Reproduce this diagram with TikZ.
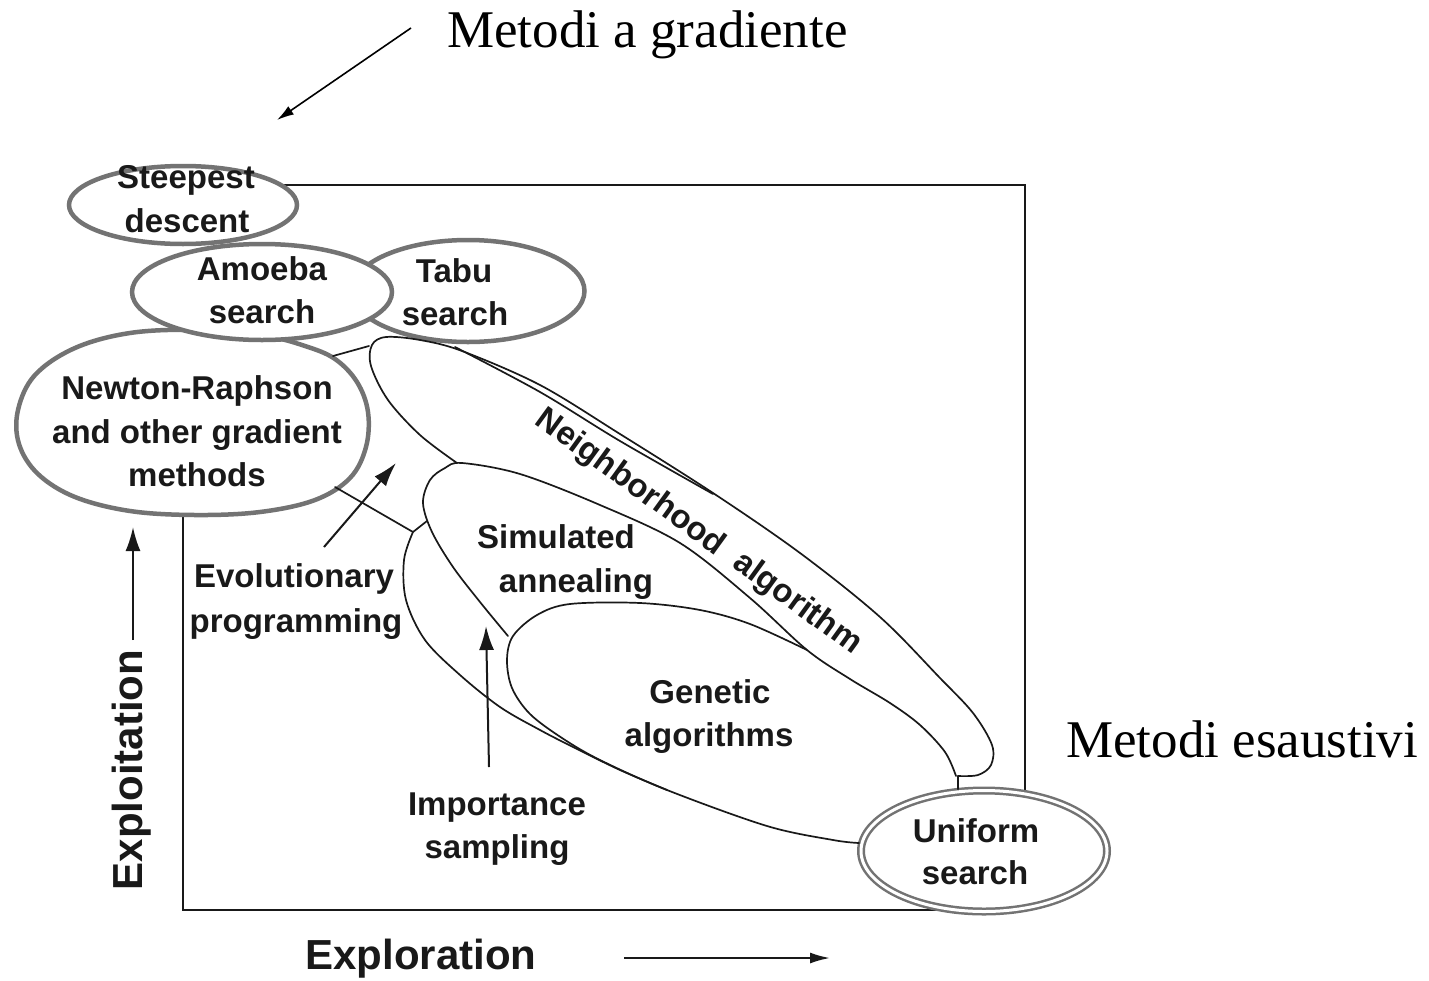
\documentclass[tikz,border=0pt]{standalone}
\usepackage{fontspec}
\setmainfont{Liberation Serif}
\newfontfamily\figsans{Liberation Sans}
\usetikzlibrary{arrows.meta,shapes.geometric}
\definecolor{ovalgray}{gray}{0.45}
\definecolor{inkc}{gray}{0.1}
\begin{document}
\begin{tikzpicture}[x=1pt,y=-1pt,
  oval/.style={ellipse, draw=ovalgray, line width=4.5pt, fill=white, inner sep=0pt, outer sep=0pt},
  lbl/.style={font=\figsans\bfseries\fontsize{33}{40}\selectfont, text=inkc, anchor=base, inner sep=0pt},
  rotlbl/.style={font=\figsans\bfseries\fontsize{33}{40}\selectfont, text=inkc, inner sep=0pt, rotate=-36},
  axislbl/.style={font=\figsans\bfseries\fontsize{42}{48}\selectfont, text=inkc, anchor=base, inner sep=0pt},
  bigserif/.style={font=\fontsize{53}{60}\selectfont, anchor=base west, inner sep=0pt},
  region/.style={line width=1.7pt, draw=inkc, line join=round, line cap=round},
  framel/.style={line width=2.6pt, draw=inkc},
  figarr/.style={line width=2pt, draw=inkc, -{Latex[length=24pt,width=15pt]}},
  slimarr/.style={line width=1.6pt, draw=black, -{Latex[length=17pt,width=10pt]}},
]
\useasboundingbox (0,0) rectangle (1429,980);

% ---- frame (ends hidden under the ovals) ----
\coordinate (fTL) at (183,185);
\coordinate (fTR) at (1025,185);
\coordinate (fRB) at (1025,851);
\coordinate (fLT) at (183,428);
\coordinate (fBL) at (183,910);
\coordinate (fBR) at (984,910);
\draw[framel] (fTL) -- (fTR) -- (fRB);
\draw[framel] (fLT) -- (fBL) -- (fBR);

% ---- thick ovals ----
\coordinate (newton) at (195,428);
\draw[ovalgray, line width=4.5pt, fill=white] plot[smooth cycle, tension=0.6] coordinates {
  (195,330) (265,336) (305,346) (335,359) (357,382) (368,412) (366,447) (350,478)
  (315,500) (260,512) (195,515) (130,511) (75,497) (38,474) (19,444) (18,410)
  (35,375) (75,348) (130,333)};
\node[oval, minimum width=233pt, minimum height=102pt] (tabu) at (468,291) {};
\node[oval, minimum width=260pt, minimum height=96pt] (amoeba) at (262,292) {};
\node[oval, minimum width=228pt, minimum height=78pt] (steep) at (183,205) {};
\node[ellipse, draw=ovalgray, line width=2.5pt, double=white, double distance=3pt,
      fill=white, inner sep=0pt, minimum width=246pt, minimum height=121pt] (uniform) at (984,851) {};

% ---- thin region boundaries ----
% Neighborhood algorithm outline
\draw[region] plot[smooth, tension=0.55] coordinates {
  (457,463) (420,435) (388,400) (371,366) (372,345) (386,337) (420,340) (462,351)
  (540,385) (620,434) (713,493) (800,553) (880,617) (940,678) (973,713) (992,745)
  (991,765) (978,775) (958,776)};
\coordinate (naend) at (958,776);
\draw[region] (naend) -- (uniform.north -| naend);
% second line under Tabu
\draw[region] plot[smooth, tension=0.55] coordinates {
  (455,347) (540,392) (620,441) (713,494)};
% Simulated annealing outline (shared with neighborhood lower edge)
\draw[region] plot[smooth, tension=0.55] coordinates {
  (508,636) (480,602) (453,567) (432,532) (423,503) (430,480) (445,468) (462,463)
  (520,474) (600,505) (680,543) (750,598) (807,650) (850,679) (890,703) (920,725)
  (945,752) (956,776)};
% Genetic algorithms outline
\draw[region] plot[smooth, tension=0.55] coordinates {
  (859,843) (833,840) (767,826) (667,790) (600,760) (562,738) (530,714) (512,688)
  (507,660) (513,636) (537,615) (570,604) (640,603) (700,610) (750,624) (807,650)};
% importance-sampling outer boundary
\coordinate (junc) at (413,532);
\draw[region] plot[smooth, tension=0.55] coordinates {
  (413,532) (404,560) (406,600) (425,640) (460,675) (500,707) (540,730) (575,748)
  (620,770) (667,790)};
% Newton -> junction, junction link, small top link
\coordinate (nwedge) at (335,487);
\draw[region] (nwedge) -- (junc) -- (427,521);
\draw[region] (333,356) -- (369,346);

% ---- labels inside ovals ----
\node[lbl] (st1) at (186,188) {Steepest};
\node[lbl] (st2) at (187,232) {descent};
\node[lbl] (am1) at (262,280) {Amoeba};
\node[lbl] (am2) at (262,323) {search};
\node[lbl] (tb1) at (454,282) {Tabu};
\node[lbl] (tb2) at (455,325) {search};
\node[lbl] (nw1) at (197,399) {Newton-Raphson};
\node[lbl] (nw2) at (197,443) {and other gradient};
\node[lbl] (nw3) at (197,486) {methods};
\node[lbl] (un1) at (976,842) {Uniform};
\node[lbl] (un2) at (975,884) {search};
\node[lbl] (sa1) at (556,548) {Simulated};
\node[lbl] (sa2) at (576,592) {annealing};
\node[lbl] (ga1) at (710,703) {Genetic};
\node[lbl] (ga2) at (709,746) {algorithms};
\node[lbl] (ev1) at (294,587) {Evolutionary};
\node[lbl] (ev2) at (296,632) {programming};
\node[lbl] (im1) at (497,815) {Importance};
\node[lbl] (im2) at (497,858) {sampling};
\node[rotlbl] (na1) at (630,483) {Neighborhood};
\node[rotlbl] (na2) at (797,604) {algorithm};

% ---- axis labels and arrows ----
\node[axislbl, rotate=90] (exploit) at (142,770) {Exploitation};
\node[axislbl] (explore) at (421,969) {Exploration};
\coordinate (yt) at (133,640);
\coordinate (yh) at (133,527);
\draw[figarr] (yt) -- (yh);
\coordinate (xt) at (624,958);
\coordinate (xh) at (830,958);
\draw[line width=2pt, draw=inkc, -{Latex[length=20pt,width=11pt]}] (xt) -- (xh);

\coordinate (evt) at (324,547);
\coordinate (evh) at (396,463);
\draw[figarr] (evt) -- (evh);
\coordinate (imt) at (489,767);
\coordinate (imh) at (486,626);
\draw[figarr] (imt) -- (imh);

% ---- outside serif labels ----
\node[bigserif] (mgrad) at (447,47) {Metodi a gradiente};
\node[bigserif] (mesau) at (1066,757) {Metodi esaustivi};
\coordinate (mgt) at (411,28);
\coordinate (mgh) at (277,120);
\draw[slimarr] (mgt) -- (mgh);
\end{tikzpicture}
\end{document}
